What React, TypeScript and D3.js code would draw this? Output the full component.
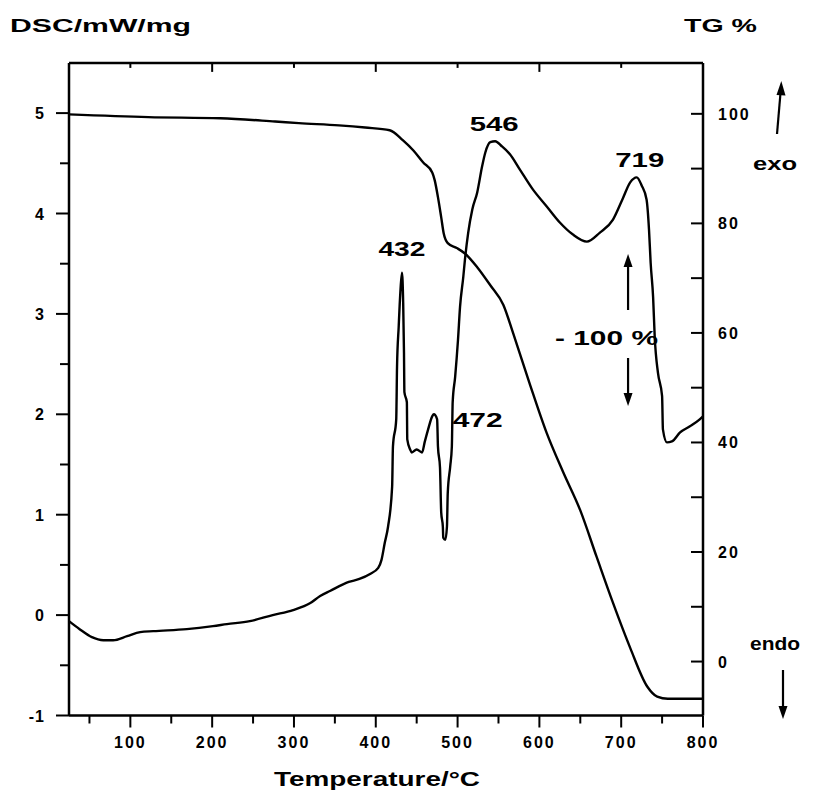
import React from 'react';
import * as d3 from 'd3';

// ---- data ----
const dscTemps = [25, 38, 53, 67, 79, 96, 112, 128, 169, 201, 218, 246, 274, 299, 320, 332, 344, 367, 380, 393, 403, 407, 411, 415, 420, 421, 425, 426, 428, 430, 432, 433.5, 434.5, 435, 438, 438.5, 442, 444, 450, 456.5, 460, 464, 469, 471, 475, 476, 478.5, 480, 482, 482.5, 485, 487, 488, 491, 493, 494, 497, 500.5, 503, 507, 509, 513, 518, 524, 530, 534, 540, 546, 554, 564, 576, 592, 609, 625, 641, 658, 674, 690, 702, 711, 719, 725, 731, 734, 736, 739, 741, 745, 750, 751, 756, 762, 772, 784, 796, 800];
const dscValues = [-0.06, -0.14, -0.22, -0.25, -0.25, -0.21, -0.17, -0.16, -0.14, -0.11, -0.09, -0.06, 0.0, 0.05, 0.12, 0.19, 0.24, 0.33, 0.36, 0.41, 0.47, 0.55, 0.72, 0.88, 1.28, 1.68, 1.95, 2.48, 2.87, 3.21, 3.41, 3.11, 2.61, 2.22, 2.12, 1.75, 1.65, 1.62, 1.65, 1.62, 1.73, 1.85, 1.98, 2.0, 1.95, 1.68, 1.47, 1.02, 0.88, 0.77, 0.75, 0.88, 1.22, 1.48, 1.68, 2.12, 2.37, 2.74, 3.07, 3.37, 3.54, 3.81, 4.04, 4.21, 4.47, 4.61, 4.71, 4.72, 4.67, 4.59, 4.44, 4.24, 4.07, 3.91, 3.79, 3.72, 3.81, 3.94, 4.15, 4.31, 4.36, 4.28, 4.14, 3.84, 3.51, 3.17, 2.77, 2.41, 2.18, 1.85, 1.72, 1.73, 1.82, 1.88, 1.95, 1.98];

const tgTemps = [25, 122, 210, 277, 306, 355, 387, 417, 433, 446, 458, 469, 472, 476, 480, 483, 488, 499, 509, 524, 540, 556, 568, 588, 609, 629, 650, 670, 690, 711, 732, 744, 757, 800];
const tgValues = [99.9, 99.4, 99.2, 98.6, 98.3, 97.9, 97.5, 97.0, 95.2, 93.3, 91.1, 89.3, 87.9, 84.8, 81.1, 78.2, 76.4, 75.5, 74.5, 72.0, 68.7, 65.1, 59.9, 50.8, 41.7, 34.6, 27.6, 19.1, 10.7, 2.5, -4.6, -6.4, -6.8, -6.8];

const xTickLabels = [100, 200, 300, 400, 500, 600, 700, 800];
const dscTickLabels = [-1, 0, 1, 2, 3, 4, 5];
const tgTickLabels = [0, 20, 40, 60, 80, 100];

const peakTemps = [432, 472, 546, 719];
const peakLabels = ['432', '472', '546', '719'];

const massLossLabel = '- 100 %';

// ---- layout ----
const W = 824, H = 795;
const L = 69, R = 703, T = 62.9, B = 715.5;
const FONT = '"Liberation Sans", Arial, Helvetica, sans-serif';

export default function App() {
  const x = d3.scaleLinear().domain([25, 800]).range([L, R]);
  const yD = d3.scaleLinear().domain([-1, 5.5]).range([B, T]);
  const yT = d3.scaleLinear().domain([-9.85, 109.3]).range([B, T]);

  const dscPts: [number, number][] = dscTemps.map((t, i) => [t, dscValues[i]]);
  const tgPts: [number, number][] = tgTemps.map((t, i) => [t, tgValues[i]]);
  const dscLine = d3.line<[number, number]>().x(d => x(d[0])).y(d => yD(d[1])).curve(d3.curveMonotoneX);
  const tgLine = d3.line<[number, number]>().x(d => x(d[0])).y(d => yT(d[1])).curve(d3.curveMonotoneX);

  const bottomTicks = d3.range(50, 801, 50);
  const topTicks = d3.range(100, 800, 100);
  const leftTicks = d3.range(-1, 5.01, 0.5);
  const rightTicks = d3.range(0, 101, 10);

  const peakVal = (t: number) => {
    const i = d3.bisector((d: number) => d).center(dscTemps, t);
    let best = dscValues[i];
    for (let k = Math.max(0, i - 3); k <= Math.min(dscTemps.length - 1, i + 3); k++) best = Math.max(best, dscValues[k]);
    return best;
  };
  // label offsets relative to the peak (dx, dy in px) and label widths
  const labelOffsets: [number, number][] = [[0, -17], [43, 13], [-1, -10], [3, -10]];
  const labelWidths = [47, 50, 49, 49];

  const txt = { fontFamily: FONT, fontWeight: 700 as const, fill: '#000' };

  const arrowHead = (x0: number, y0: number, dir: 1 | -1, w = 4.5, h = 13) =>
    `M${x0},${y0} L${x0 - w},${y0 - dir * h} L${x0 + w},${y0 - dir * h} Z`;

  const mx = x(708.4); // x of the mass-loss arrows
  return (
    <svg width={W} height={H} style={{ position: 'absolute', left: 0, top: 0, background: '#fff' }}>
      <rect x={0} y={0} width={W} height={H} fill="#fff" />
      {/* frame */}
      <g stroke="#000" strokeWidth={2.5} fill="none">
        <line x1={L} y1={T} x2={L} y2={B} />
        <line x1={R} y1={T} x2={R} y2={B} />
        <line x1={L} y1={B} x2={R} y2={B} />
        <line x1={L} y1={T} x2={R} y2={T} />
      </g>
      {/* ticks */}
      <g stroke="#000" strokeWidth={2}>
        {bottomTicks.map(t => (
          <line key={'b' + t} x1={x(t)} x2={x(t)} y1={B} y2={B + (t % 100 === 0 ? 12 : 8)} />
        ))}
        {topTicks.map(t => (
          <line key={'t' + t} x1={x(t)} x2={x(t)} y1={T} y2={T + (t % 200 === 0 ? 9 : 5)} />
        ))}
        {leftTicks.map(v => (
          <line key={'l' + v} x1={L} x2={L - (Number.isInteger(v) ? 13 : 9)} y1={yD(v)} y2={yD(v)} />
        ))}
        {rightTicks.map(v => (
          <line key={'r' + v} x1={R} x2={R - 12} y1={yT(v)} y2={yT(v)} />
        ))}
      </g>
      {/* tick labels */}
      {xTickLabels.map(t => (
        <text key={'xl' + t} x={x(t)} y={B + 32} textAnchor="middle" fontSize={16} letterSpacing={2} {...txt}>{t}</text>
      ))}
      {dscTickLabels.map(v => (
        <text key={'dl' + v} x={L - 24} y={yD(v) + 6} textAnchor="end" fontSize={16} letterSpacing={1} {...txt}>{v}</text>
      ))}
      {tgTickLabels.map(v => (
        <text key={'tl' + v} x={R + 15} y={yT(v) + 6} textAnchor="start" fontSize={16} letterSpacing={2} {...txt}>{v}</text>
      ))}
      {/* axis titles */}
      <text x={10} y={32} fontSize={19} textLength={181} lengthAdjust="spacingAndGlyphs" {...txt}>DSC/mW/mg</text>
      <text x={684} y={32} fontSize={19} textLength={73} lengthAdjust="spacingAndGlyphs" {...txt}>TG %</text>
      <text x={274} y={786} fontSize={21} textLength={206} lengthAdjust="spacingAndGlyphs" {...txt}>Temperature/°C</text>
      {/* curves */}
      <path d={dscLine(dscPts) || ''} fill="none" stroke="#000" strokeWidth={2.4} strokeLinejoin="round" />
      <path d={tgLine(tgPts) || ''} fill="none" stroke="#000" strokeWidth={2.4} strokeLinejoin="round" />
      {/* peak labels */}
      {peakTemps.map((t, i) => (
        <text key={'pk' + t} x={x(t) + labelOffsets[i][0] - labelWidths[i] / 2} y={yD(peakVal(t)) + labelOffsets[i][1]} fontSize={20} textLength={labelWidths[i]} lengthAdjust="spacingAndGlyphs" {...txt}>{peakLabels[i]}</text>
      ))}
      {/* mass loss annotation */}
      <text x={555} y={345} fontSize={20} textLength={103} lengthAdjust="spacingAndGlyphs" {...txt}>{massLossLabel}</text>
      <line x1={mx} x2={mx} y1={310} y2={265} stroke="#000" strokeWidth={2.2} />
      <path d={arrowHead(mx, 254, -1)} fill="#000" />
      <line x1={mx} x2={mx} y1={358} y2={395} stroke="#000" strokeWidth={2.2} />
      <path d={arrowHead(mx, 406, 1)} fill="#000" />
      {/* exo / endo */}
      <text x={753} y={170} fontSize={18} textLength={44} lengthAdjust="spacingAndGlyphs" {...txt}>exo</text>
      <line x1={777} y1={134} x2={780.5} y2={93} stroke="#000" strokeWidth={2.2} />
      <path d={`M781.3,81 L776.5,95 L785.5,95.6 Z`} fill="#000" />
      <text x={750} y={650} fontSize={18} textLength={50} lengthAdjust="spacingAndGlyphs" {...txt}>endo</text>
      <line x1={783} y1={670} x2={783} y2={708} stroke="#000" strokeWidth={2.2} />
      <path d={arrowHead(783, 719, 1)} fill="#000" />
    </svg>
  );
}
